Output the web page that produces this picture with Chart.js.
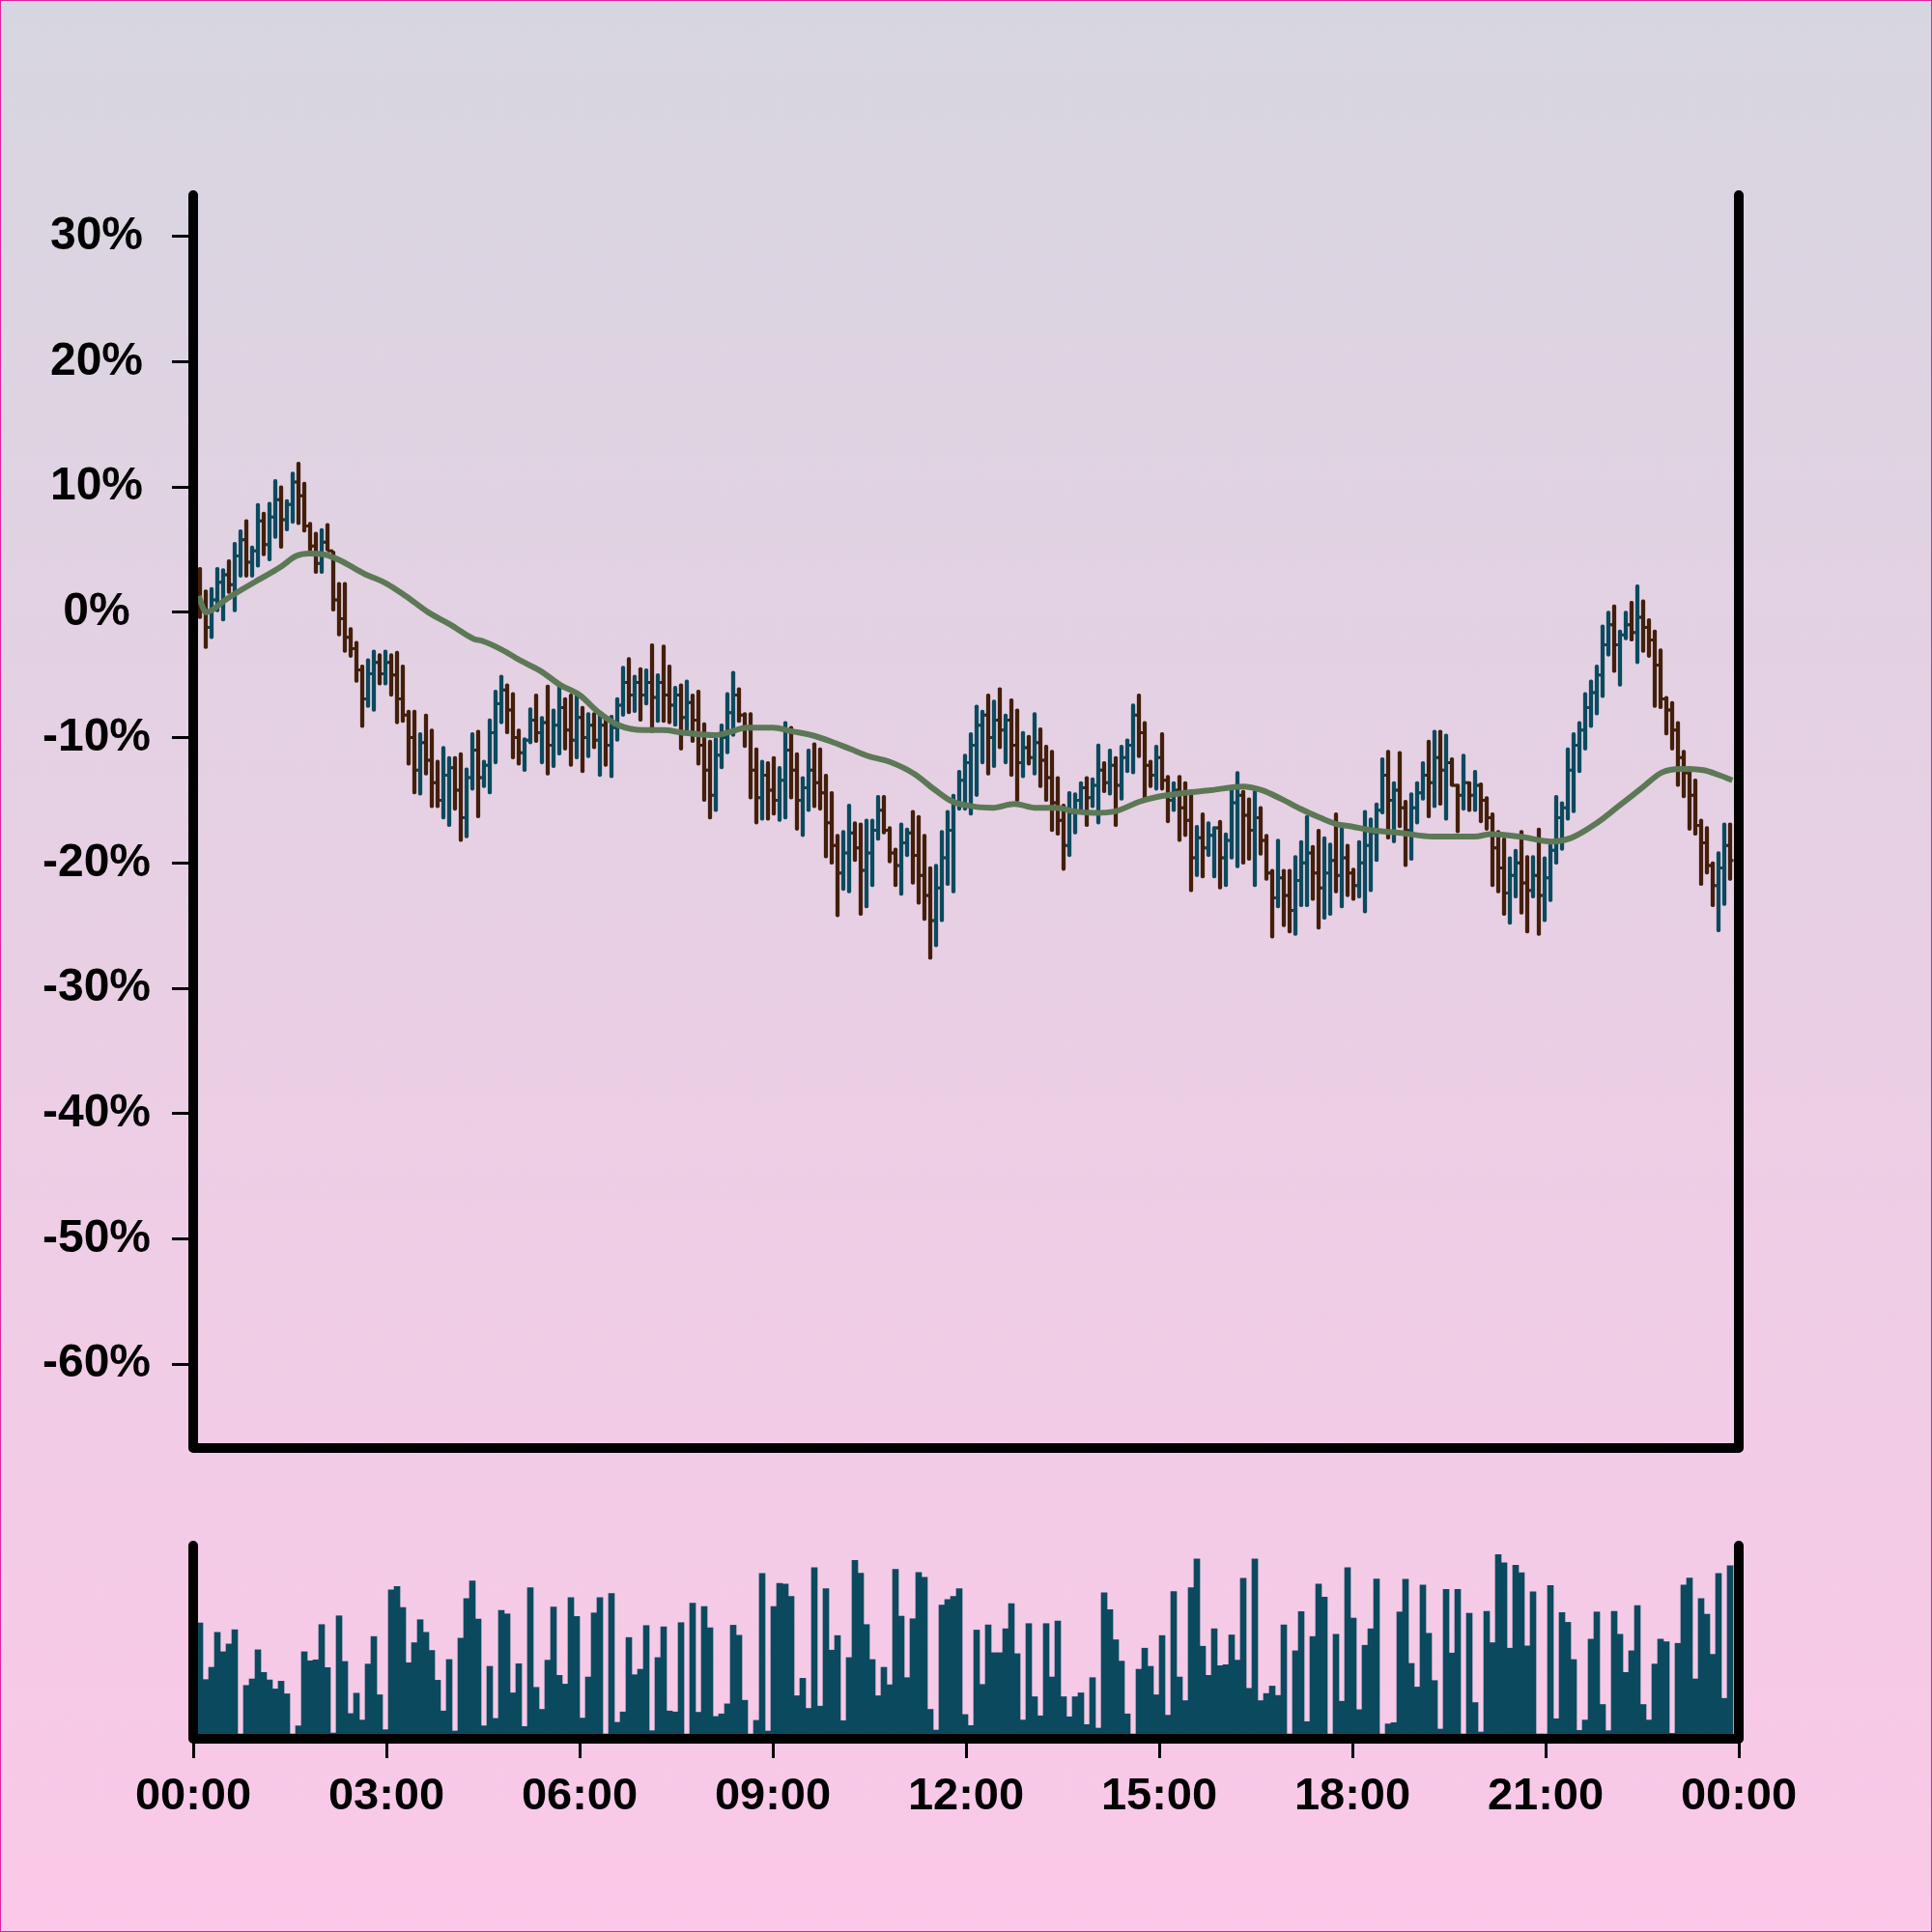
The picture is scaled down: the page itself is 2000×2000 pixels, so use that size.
<!DOCTYPE html>
<html>
<head>
<meta charset="utf-8">
<script src="https://cdn.jsdelivr.net/npm/chart.js@4.4.1/dist/chart.umd.min.js"></script>
<style>
  html, body { margin: 0; padding: 0; }
  body {
    width: 2000px; height: 2000px; position: relative; overflow: hidden;
    background: linear-gradient(to bottom, #d7d6e0 0%, #fbc8e8 100%);
  }
  #priceChart { position: absolute; left: 0; top: 0; }
  #volChart { position: absolute; left: 0; top: 1500px; }
  #frame {
    position: absolute; left: 0; top: 0; width: 2000px; height: 2000px;
    box-sizing: border-box; border: 1px solid #e0209e; pointer-events: none;
  }
</style>
</head>
<body>
<canvas id="priceChart" width="2000" height="1520"></canvas>
<canvas id="volChart" width="2000" height="500"></canvas>
<div id="frame"></div>
<script>
// axis labels
const timeLabels = ["00:00", "03:00", "06:00", "09:00", "12:00", "15:00", "18:00", "21:00", "00:00"];
const tickMinutes = [0, 180, 360, 540, 720, 900, 1080, 1260, 1440];
const yTicks = [-60, -50, -40, -30, -20, -10, 0, 10, 20, 30];

// bars are 5.4 minutes apart
const FIRST_BAR_MIN = 6.3;
const BAR_STEP_MIN = 5.4;

const opens = [2.5, 0.6, -1.2, 1.0, 2.4, 3.0, 2.2, 4.5, 5.8, 4.0,
  4.9, 7.3, 5.4, 7.6, 9.0, 7.4, 8.6, 10.4, 9.3, 6.9,
  5.3, 3.9, 5.6, 4.9, 1.0, -0.5, -2.0, -2.9, -4.6, -6.9,
  -4.9, -4.0, -4.9, -4.0, -5.0, -6.9, -8.2, -10.0, -12.6, -10.4,
  -11.8, -13.6, -15.0, -13.0, -12.4, -14.2, -16.4, -13.2, -11.0, -13.2,
  -12.2, -9.6, -7.3, -6.2, -7.8, -10.0, -11.2, -10.2, -8.6, -9.6,
  -8.8, -10.6, -9.0, -7.6, -9.4, -10.2, -8.4, -10.0, -9.0, -10.2,
  -9.0, -10.6, -9.2, -7.4, -5.6, -6.6, -5.6, -6.6, -5.6, -6.8,
  -5.6, -6.6, -7.4, -6.6, -8.4, -7.2, -8.6, -10.6, -12.6, -14.6,
  -11.4, -10.0, -8.0, -6.6, -8.2, -9.2, -12.6, -14.8, -13.0, -14.2,
  -15.0, -13.4, -11.0, -12.6, -15.0, -14.0, -12.6, -13.6, -14.4, -16.8,
  -18.6, -20.8, -19.2, -17.6, -18.8, -20.6, -19.2, -17.4, -15.8, -17.4,
  -19.2, -20.2, -18.4, -17.6, -19.4, -21.0, -22.6, -24.6, -22.0, -19.6,
  -17.4, -15.2, -13.4, -12.0, -10.6, -9.0, -8.2, -10.0, -8.6, -9.4,
  -8.6, -10.6, -12.0, -10.8, -11.6, -10.4, -11.8, -13.2, -15.2, -16.6,
  -18.6, -16.0, -15.0, -14.0, -14.8, -13.8, -12.6, -13.6, -12.2, -13.8,
  -11.6, -10.6, -8.2, -9.6, -12.2, -13.0, -11.6, -13.4, -15.0, -14.2,
  -15.6, -16.6, -19.6, -18.0, -18.8, -17.8, -17.2, -19.6, -18.2, -15.2,
  -14.6, -16.2, -17.4, -16.4, -18.2, -20.8, -22.8, -21.2, -22.6, -23.8,
  -21.4, -20.0, -19.2, -20.8, -22.0, -20.8, -19.8, -21.0, -19.6, -20.8,
  -21.8, -20.0, -18.6, -17.6, -15.8, -13.0, -15.0, -14.2, -15.6, -17.4,
  -15.6, -14.4, -13.0, -13.6, -11.6, -12.6, -12.0, -13.8, -14.6, -13.6,
  -14.6, -13.8, -15.0, -16.4, -18.8, -20.4, -22.4, -21.0, -20.0, -21.6,
  -22.2, -21.0, -22.6, -21.2, -19.0, -16.4, -15.6, -12.6, -10.6, -9.4,
  -7.6, -6.4, -5.0, -2.6, -1.0, -2.6, -1.8, -1.0, -1.6, -0.4,
  -1.2, -2.2, -4.2, -6.9, -7.8, -9.4, -11.6, -12.8, -14.6, -17.0,
  -18.4, -20.2, -21.8, -20.4, -18.6];

const highs = [3.6, 1.8, 2.0, 3.6, 3.5, 4.2, 5.6, 6.6, 7.4, 5.3,
  8.7, 8.0, 8.8, 10.6, 10.1, 9.0, 11.2, 12.0, 10.4, 7.2,
  6.4, 6.7, 7.1, 4.9, 2.4, 2.4, -1.2, -2.3, -4.2, -3.7,
  -3.0, -3.3, -3.0, -3.3, -3.1, -4.2, -7.8, -7.8, -9.6, -8.1,
  -9.3, -11.8, -10.7, -11.5, -11.5, -11.2, -12.4, -9.6, -9.4, -11.8,
  -8.5, -6.2, -5.0, -5.7, -6.4, -9.3, -10.0, -7.6, -6.5, -8.3,
  -5.8, -7.7, -5.8, -6.8, -6.5, -6.6, -7.5, -8.0, -8.0, -8.1,
  -8.5, -8.2, -6.8, -4.3, -3.6, -5.0, -4.4, -4.5, -2.5, -4.9,
  -2.6, -4.2, -5.9, -5.7, -5.4, -6.5, -6.2, -8.8, -10.2, -10.0,
  -8.9, -6.4, -4.7, -6.0, -8.0, -8.0, -10.8, -11.8, -11.9, -11.5,
  -12.3, -8.7, -9.1, -11.2, -13.1, -10.9, -10.4, -10.8, -12.9, -14.3,
  -17.7, -17.4, -15.3, -16.7, -16.8, -16.5, -16.5, -14.6, -14.6, -17.1,
  -18.8, -16.8, -17.2, -15.8, -16.2, -17.7, -20.3, -20.1, -17.4, -15.8,
  -14.5, -12.6, -11.3, -9.6, -7.4, -7.8, -6.5, -7.0, -6.0, -8.1,
  -6.9, -7.7, -9.5, -9.8, -8.0, -9.2, -10.6, -11.0, -13.1, -15.3,
  -14.3, -14.4, -13.5, -13.1, -13.2, -10.5, -11.9, -10.9, -11.5, -10.6,
  -10.1, -7.3, -6.5, -8.7, -11.8, -10.6, -9.6, -13.0, -13.5, -13.0,
  -13.5, -14.2, -17.0, -16.0, -16.7, -17.1, -16.6, -17.6, -13.9, -12.7,
  -14.2, -14.8, -14.2, -15.5, -17.7, -20.5, -18.1, -20.5, -20.5, -19.4,
  -18.2, -16.2, -18.6, -17.3, -17.9, -18.4, -16.0, -17.1, -18.5, -20.4,
  -18.2, -15.8, -16.4, -15.2, -11.6, -11.0, -13.5, -11.1, -15.0, -14.4,
  -13.5, -11.9, -10.2, -9.4, -9.4, -9.7, -11.6, -13.7, -11.3, -13.5,
  -12.6, -13.6, -14.7, -16.0, -17.4, -18.0, -19.5, -18.9, -17.4, -19.4,
  -19.4, -17.2, -19.5, -18.5, -14.6, -15.1, -10.8, -9.6, -8.7, -6.4,
  -5.4, -4.2, -1.0, 0.1, 0.6, -1.4, 0.1, 0.9, 2.2, 1.0,
  -0.5, -1.4, -2.9, -6.7, -7.1, -8.7, -11.0, -12.3, -13.3, -16.5,
  -17.1, -19.9, -19.1, -16.8, -16.8];

const lows = [-0.5, -2.9, -2.1, 0.0, -0.7, 1.5, 0.0, 2.8, 2.8, 2.8,
  3.6, 4.5, 4.1, 5.9, 5.1, 6.5, 7.1, 7.0, 6.4, 4.9,
  3.1, 3.1, 4.9, 0.1, -1.9, -3.2, -3.6, -5.6, -9.2, -7.6,
  -7.9, -5.8, -5.8, -6.7, -8.9, -8.8, -12.2, -14.5, -14.6, -13.0,
  -15.6, -15.6, -16.5, -17.1, -15.8, -18.3, -18.0, -14.2, -16.4, -14.0,
  -14.5, -12.1, -8.9, -9.7, -11.7, -12.2, -12.7, -10.5, -10.4, -12.1,
  -13.0, -12.4, -11.4, -11.0, -12.3, -11.7, -12.8, -11.6, -10.9, -13.1,
  -12.3, -13.2, -10.3, -8.3, -8.1, -8.0, -8.7, -7.4, -9.6, -8.8,
  -8.8, -8.9, -9.1, -11.0, -9.5, -10.4, -12.2, -15.1, -16.5, -15.9,
  -12.5, -11.3, -9.9, -8.8, -10.8, -14.9, -16.9, -16.6, -16.6, -16.2,
  -16.7, -16.5, -14.9, -17.4, -17.9, -15.9, -15.6, -15.8, -19.6, -20.1,
  -24.3, -22.2, -22.4, -19.9, -24.2, -23.6, -21.9, -18.2, -17.7, -20.0,
  -21.9, -22.6, -19.5, -21.7, -23.3, -24.6, -27.7, -26.7, -24.7, -21.8,
  -22.4, -15.8, -15.8, -16.2, -14.7, -12.1, -13.0, -12.4, -10.9, -12.1,
  -13.1, -15.1, -13.2, -12.2, -13.0, -14.0, -15.1, -17.5, -17.8, -20.6,
  -19.5, -17.7, -16.0, -17.1, -15.6, -16.9, -14.4, -14.6, -17.1, -15.0,
  -12.8, -12.9, -11.6, -14.9, -14.0, -14.2, -14.2, -16.8, -15.9, -18.3,
  -17.9, -22.3, -21.1, -21.2, -19.5, -21.2, -22.1, -21.9, -19.7, -20.4,
  -20.1, -19.8, -21.9, -19.4, -21.4, -26.0, -23.6, -25.1, -25.6, -25.8,
  -23.5, -23.5, -23.0, -25.3, -24.5, -24.2, -22.4, -23.6, -22.7, -23.0,
  -22.8, -24.0, -22.3, -19.9, -16.1, -18.1, -18.4, -17.2, -20.3, -19.8,
  -16.9, -15.0, -16.4, -15.6, -15.4, -16.6, -13.9, -17.6, -15.8, -15.9,
  -15.9, -16.8, -17.4, -21.9, -22.4, -24.2, -24.9, -22.8, -24.1, -25.6,
  -22.8, -25.8, -24.7, -23.1, -20.1, -19.0, -16.6, -16.0, -12.8, -11.0,
  -9.2, -8.2, -6.8, -3.5, -4.8, -5.9, -2.2, -2.3, -4.1, -3.2,
  -3.6, -7.6, -7.7, -9.8, -11.0, -13.9, -14.8, -17.4, -17.8, -21.8,
  -20.9, -23.5, -25.5, -23.4, -21.4];

const closes = [0.6, -1.2, 1.0, 2.4, 3.0, 2.2, 4.5, 5.8, 4.0, 4.9,
  7.3, 5.4, 7.6, 9.0, 7.4, 8.6, 10.4, 9.3, 6.9, 5.3,
  3.9, 5.6, 4.9, 1.0, -0.5, -2.0, -2.9, -4.6, -6.9, -4.9,
  -4.0, -4.9, -4.0, -5.0, -6.9, -8.2, -10.0, -12.6, -10.4, -11.8,
  -13.6, -15.0, -13.0, -12.4, -14.2, -16.4, -13.2, -11.0, -13.2, -12.2,
  -9.6, -7.3, -6.2, -7.8, -10.0, -11.2, -10.2, -8.6, -9.6, -8.8,
  -10.6, -9.0, -7.6, -9.4, -10.2, -8.4, -10.0, -9.0, -10.2, -9.0,
  -10.6, -9.2, -7.4, -5.6, -6.6, -5.6, -6.6, -5.6, -6.8, -5.6,
  -6.6, -7.4, -6.6, -8.4, -7.2, -8.6, -10.6, -12.6, -14.6, -11.4,
  -10.0, -8.0, -6.6, -8.2, -9.2, -12.6, -14.8, -13.0, -14.2, -15.0,
  -13.4, -11.0, -12.6, -15.0, -14.0, -12.6, -13.6, -14.4, -16.8, -18.6,
  -20.8, -19.2, -17.6, -18.8, -20.6, -19.2, -17.4, -15.8, -17.4, -19.2,
  -20.2, -18.4, -17.6, -19.4, -21.0, -22.6, -24.6, -22.0, -19.6, -17.4,
  -15.2, -13.4, -12.0, -10.6, -9.0, -8.2, -10.0, -8.6, -9.4, -8.6,
  -10.6, -12.0, -10.8, -11.6, -10.4, -11.8, -13.2, -15.2, -16.6, -18.6,
  -16.0, -15.0, -14.0, -14.8, -13.8, -12.6, -13.6, -12.2, -13.8, -11.6,
  -10.6, -8.2, -9.6, -12.2, -13.0, -11.6, -13.4, -15.0, -14.2, -15.6,
  -16.6, -19.6, -18.0, -18.8, -17.8, -17.2, -19.6, -18.2, -15.2, -14.6,
  -16.2, -17.4, -16.4, -18.2, -20.8, -22.8, -21.2, -22.6, -23.8, -21.4,
  -20.0, -19.2, -20.8, -22.0, -20.8, -19.8, -21.0, -19.6, -20.8, -21.8,
  -20.0, -18.6, -17.6, -15.8, -13.0, -15.0, -14.2, -15.6, -17.4, -15.6,
  -14.4, -13.0, -13.6, -11.6, -12.6, -12.0, -13.8, -14.6, -13.6, -14.6,
  -13.8, -15.0, -16.4, -18.8, -20.4, -22.4, -21.0, -20.0, -21.6, -22.2,
  -21.0, -22.6, -21.2, -19.0, -16.4, -15.6, -12.6, -10.6, -9.4, -7.6,
  -6.4, -5.0, -2.6, -1.0, -2.6, -1.8, -1.0, -1.6, -0.4, -1.2,
  -2.2, -4.2, -6.9, -7.8, -9.4, -11.6, -12.8, -14.6, -17.0, -18.4,
  -20.2, -21.8, -20.4, -18.6, -19.8];

const volumes = [343, 168, 206, 314, 254, 278, 322, 0, 150, 170,
  260, 190, 167, 139, 163, 124, 0, 25, 254, 226,
  229, 338, 205, 3, 365, 224, 63, 126, 43, 216,
  301, 121, 13, 445, 456, 391, 220, 282, 353, 314,
  258, 166, 71, 230, 9, 296, 418, 473, 355, 25,
  209, 48, 382, 371, 127, 217, 23, 452, 144, 76,
  228, 392, 181, 154, 421, 363, 49, 176, 374, 421,
  0, 434, 36, 68, 298, 183, 200, 335, 10, 236,
  331, 71, 68, 344, 0, 404, 67, 394, 328, 54,
  62, 93, 336, 305, 104, 0, 42, 496, 9, 394,
  465, 463, 425, 118, 172, 79, 514, 86, 449, 259,
  304, 41, 236, 536, 497, 338, 230, 118, 206, 152,
  509, 364, 174, 356, 499, 484, 76, 12, 398, 415,
  425, 449, 60, 26, 321, 153, 337, 251, 251, 325,
  403, 248, 43, 341, 115, 56, 341, 176, 349, 115,
  53, 115, 127, 29, 174, 18, 436, 384, 291, 225,
  62, 0, 200, 265, 209, 121, 304, 58, 440, 176,
  103, 452, 541, 271, 181, 325, 211, 214, 306, 228,
  481, 141, 541, 103, 125, 148, 119, 337, 0, 257,
  378, 38, 301, 463, 423, 0, 308, 101, 514, 358,
  75, 274, 325, 479, 0, 31, 35, 377, 478, 218,
  145, 460, 311, 165, 15, 447, 250, 447, 0, 373,
  97, 6, 379, 282, 554, 529, 265, 521, 498, 272,
  439, 0, 0, 459, 47, 375, 345, 230, 11, 43,
  293, 377, 91, 10, 379, 308, 190, 257, 397, 91,
  43, 216, 293, 285, 2, 280, 460, 482, 170, 418,
  370, 246, 496, 110, 520];

// moving average line, read at these minutes
const maMinutes = [5, 12, 30, 45, 63, 81, 96, 108, 123, 138,
  159, 180, 198, 219, 240, 261, 270, 288, 306, 324,
  342, 360, 378, 396, 420, 438, 456, 486, 498, 516,
  540, 558, 576, 594, 612, 630, 648, 672, 690, 705,
  720, 744, 765, 786, 804, 822, 840, 858, 882, 900,
  924, 948, 978, 996, 1014, 1032, 1050, 1065, 1080, 1098,
  1125, 1155, 1194, 1209, 1236, 1266, 1284, 1308, 1329, 1350,
  1368, 1386, 1407, 1422, 1434];
const maValues = [1.3, 0.0, 1.0, 1.8, 2.7, 3.6, 4.5, 4.7, 4.6, 4.1,
  3.1, 2.3, 1.3, 0.0, -1.0, -2.1, -2.3, -3.0, -3.9, -4.7,
  -5.8, -6.6, -8.0, -9.0, -9.4, -9.4, -9.6, -9.8, -9.6, -9.2,
  -9.2, -9.5, -9.8, -10.3, -10.9, -11.5, -11.9, -12.9, -14.1, -15.0,
  -15.4, -15.6, -15.3, -15.6, -15.6, -15.9, -16.0, -15.9, -15.1, -14.7,
  -14.4, -14.2, -13.9, -14.2, -14.9, -15.7, -16.4, -16.9, -17.1, -17.4,
  -17.6, -17.9, -17.9, -17.7, -17.9, -18.3, -18.0, -16.8, -15.4, -14.0,
  -12.8, -12.5, -12.6, -13.0, -13.4];

const UP = "#0b4a5e";
const DOWN = "#431f0b";
const MA_COLOR = "#5c7856";

const barMinutes = closes.map((c, i) => FIRST_BAR_MIN + i * BAR_STEP_MIN);
const barColors = closes.map((c, i) => (c >= opens[i] ? UP : DOWN));

Chart.defaults.font.family = '"Liberation Sans", Arial, sans-serif';
Chart.defaults.font.size = 48;
Chart.defaults.font.weight = "bold";
Chart.defaults.color = "#000";

// thick open frame (left, bottom, right) with round ends
const axisFrame = {
  id: "axisFrame",
  afterDraw(chart, args, opts) {
    const a = chart.chartArea;
    const ctx = chart.ctx;
    const yb = a.bottom + (opts.drop || 0);
    ctx.save();
    ctx.strokeStyle = "#000";
    ctx.lineWidth = 10;
    ctx.lineCap = "round";
    ctx.lineJoin = "round";
    ctx.beginPath();
    ctx.moveTo(a.left, a.top);
    ctx.lineTo(a.left, yb);
    ctx.lineTo(a.right, yb);
    ctx.lineTo(a.right, a.top);
    ctx.stroke();
    ctx.restore();
  }
};

// open tick on the left, close tick on the right
const ohlcTicks = {
  id: "ohlcTicks",
  afterDatasetDraw(chart, args) {
    if (args.index !== 0) return;
    const xs = chart.scales.x;
    const ys = chart.scales.y;
    const ctx = chart.ctx;
    ctx.save();
    ctx.lineWidth = 3;
    closes.forEach((c, i) => {
      const px = xs.getPixelForValue(barMinutes[i]);
      const yo = ys.getPixelForValue(opens[i]);
      const yc = ys.getPixelForValue(c);
      ctx.strokeStyle = barColors[i];
      ctx.beginPath();
      ctx.moveTo(px - 3.5, yo);
      ctx.lineTo(px, yo);
      ctx.moveTo(px, yc);
      ctx.lineTo(px + 3.5, yc);
      ctx.stroke();
    });
    ctx.restore();
  }
};

new Chart(document.getElementById("priceChart").getContext("2d"), {
  type: "bar",
  data: {
    datasets: [
      {
        type: "bar",
        data: barMinutes.map((t, i) => ({ x: t, y: [lows[i], highs[i]] })),
        backgroundColor: barColors,
        barThickness: 3.6,
        borderRadius: 1.8,
        borderSkipped: false,
        borderWidth: 0,
        order: 2
      },
      {
        type: "line",
        data: maMinutes.map((t, i) => ({ x: t, y: maValues[i] })),
        borderColor: MA_COLOR,
        borderWidth: 6,
        pointRadius: 0,
        cubicInterpolationMode: "monotone",
        order: 1
      }
    ]
  },
  options: {
    responsive: false,
    animation: false,
    devicePixelRatio: 1,
    layout: { padding: { left: 0, right: 200, top: 202, bottom: 21 } },
    plugins: { legend: { display: false }, tooltip: { enabled: false }, axisFrame: { drop: 0 } },
    scales: {
      x: { type: "linear", min: 0, max: 1440, offset: false, display: false },
      y: {
        min: -66.7,
        max: 33.3,
        afterFit: (s) => { s.width = 200; s.paddingTop = 0; s.paddingBottom = 0; },
        afterBuildTicks: (s) => { s.ticks = yTicks.map((v) => ({ value: v })); },
        grid: { drawOnChartArea: false, drawTicks: true, tickLength: 22, tickWidth: 3, tickColor: "#000" },
        border: { display: false },
        ticks: { crossAlign: "center", padding: 22, callback: (v) => v + "%" }
      }
    }
  },
  plugins: [ohlcTicks, axisFrame]
});

new Chart(document.getElementById("volChart").getContext("2d"), {
  type: "bar",
  data: {
    datasets: [
      {
        data: barMinutes.map((t, i) => ({ x: t, y: volumes[i] })),
        backgroundColor: UP,
        barThickness: 6,
        borderWidth: 0
      }
    ]
  },
  options: {
    responsive: false,
    animation: false,
    devicePixelRatio: 1,
    layout: { padding: { left: 200, right: 200, top: 100, bottom: 0 } },
    plugins: { legend: { display: false }, tooltip: { enabled: false }, axisFrame: { drop: 5 } },
    scales: {
      x: {
        type: "linear",
        min: 0,
        max: 1440,
        offset: false,
        afterFit: (s) => { s.height = 205; },
        afterBuildTicks: (s) => { s.ticks = tickMinutes.map((v) => ({ value: v })); },
        grid: { drawOnChartArea: false, drawTicks: true, tickLength: 25, tickWidth: 3, tickColor: "#000", offset: false },
        border: { display: false },
        ticks: { padding: 12, maxRotation: 0, autoSkip: false, font: { size: 47 }, callback: (v, i) => timeLabels[i] }
      },
      y: { display: false, min: 0, max: 582 }
    }
  },
  plugins: [axisFrame]
});
</script>
</body>
</html>
